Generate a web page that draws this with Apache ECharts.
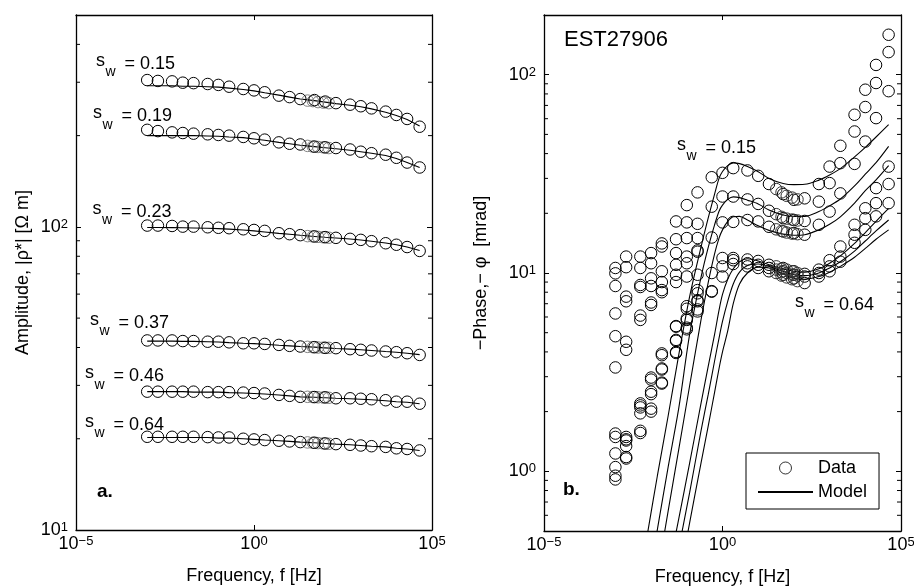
<!DOCTYPE html>
<html><head><meta charset="utf-8">
<script src="https://cdn.jsdelivr.net/npm/echarts@6/dist/echarts.min.js"></script>
<style>html,body{margin:0;padding:0;background:#fff}#c{width:914px;height:586px}</style>
</head><body><div id="c"></div>
<script>
// ---------- data ----------
const freqs = [0.001,0.002,0.005,0.01,0.02,0.05,0.1,0.2,0.5,1,2,5,10,20,50,100,200,500,1000,2000,5000,10000,20000,45000];
const repeatFreqs = [0.001,0.002,0.005,0.01,0.02,0.05,0.1,0.2];
const extraFreqs = [32,45,63,89,126];
const modelFreqs = [0.008,0.015,0.03,0.06,0.12,0.25,0.4,0.6,0.8,1,1.4,2,3,5,10,20,50,100,200,500,1000,2000,5000,10000,20000,45000];
const swLabels = ['0.15','0.19','0.23','0.37','0.46','0.64'];
const minorTicksLeft = [20,30,40,50,60,70,80,90,200,300,400];
const minorTicksRight = [0.6,0.7,0.8,0.9,2,3,4,5,6,7,8,9,20,30,40,50,60,70,80,90];

// amplitude (panel a)
const amp015 = [305,303,302,299,298,296,294,290,285,282,278,271,268,264,262,259,256,253,250,246,240,234,227,214];
const amp019 = [209,207,205,204,203,202,201,200,198,196,194,190,188,187,184,183,182,180,177,175,173,169,163,157];
const amp023 = [101,101,100.7,100.2,100.2,99.7,99.3,99,98.2,97.7,97,95.3,94.6,93.9,93,92.5,92,91.3,90.6,89.7,88.3,87.3,85.8,83.3];
const amp037 = [42.2,42.2,42.2,42.0,42.0,41.8,41.8,41.6,41.3,41.3,41.1,40.8,40.5,40.3,40.1,39.9,39.8,39.5,39.3,39.1,38.8,38.6,38.3,37.8];
const amp046 = [28.6,28.6,28.6,28.6,28.6,28.5,28.5,28.5,28.4,28.3,28.2,27.9,27.7,27.5,27.45,27.4,27.2,27.2,27.1,27.0,26.8,26.5,26.5,26.1];
const amp064 = [20.3,20.3,20.3,20.3,20.3,20.25,20.2,20.2,20.0,19.9,19.8,19.7,19.6,19.5,19.4,19.3,19.2,19.1,19.0,18.9,18.8,18.6,18.5,18.3];
const ampExtra015 = [261,260,258,257,256];
const ampExtra019 = [185,184,183.5,183,182];
const ampExtra023 = [93.2,93,92.7,92.4,92.1];
const ampExtra037 = [40.2,40.1,40.0,39.95,39.9];
const ampExtra046 = [27.5,27.45,27.4,27.35,27.3];
const ampExtra064 = [19.45,19.4,19.35,19.3,19.25];
const ampModel015 = [292,292,292,291,291,290,289,287,284,281,277,272,268,264,261,258,255,252,249,245,239,233,226,215];
const ampModel019 = [200,200,200,200,200,199.5,199,198,197,195,193,190,188,186,184,182.5,181,179,177,175,172,168,163,157];
const ampModel023 = [99.5,99.5,99.4,99.3,99.2,99,98.7,98.3,97.7,97,96.2,95.2,94.5,93.8,93,92.4,91.9,91.2,90.5,89.7,88.5,87.3,85.8,83.6];
const ampModel037 = [42.0,42.0,42.0,41.9,41.9,41.8,41.7,41.5,41.3,41.2,41.0,40.7,40.5,40.3,40.1,39.9,39.7,39.5,39.3,39.1,38.8,38.6,38.3,37.9];
const ampModel046 = [28.6,28.6,28.6,28.6,28.5,28.5,28.5,28.4,28.3,28.2,28.1,27.9,27.7,27.5,27.4,27.3,27.2,27.1,27.0,26.9,26.7,26.5,26.4,26.1];
const ampModel064 = [20.2,20.2,20.2,20.2,20.2,20.2,20.1,20.1,20.0,19.9,19.8,19.7,19.6,19.5,19.4,19.3,19.2,19.1,19.0,18.9,18.8,18.6,18.5,18.3];

// phase (panel b)
const phase015 = [10.6,12.1,12.1,12.6,14.1,18.2,22.0,25.5,30.4,32.0,33.8,32.9,30.9,28.1,25.0,23.4,23.8,28.1,34.4,43.8,62.8,84,112,159];
const phase019 = [8.6,7.6,8.7,9.4,10.2,12.6,15.0,15.0,21.6,24.3,24.3,23.5,22.3,20.6,18.9,18.5,18.3,22.9,28.4,35.8,51.7,68.7,90.8,130];
const phase023 = [4.8,4.5,6.1,7.1,8.2,9.8,11.2,12.8,15.1,18.0,18.1,18.5,18.2,17.1,16.2,15.9,15.6,17.5,20.4,25.2,35.5,46,60.4,82.6];
const phase037 = [1.55,1.49,2.2,2.97,3.93,5.4,6.8,8.2,10.0,11.9,11.9,11.7,11.5,11.0,10.6,10.2,9.9,10.4,11.6,13.6,17.5,21.2,26.8,34.4];
const phase046 = [1.23,1.34,1.96,2.52,3.26,4.6,5.9,7.3,8.05,10.8,11.6,11.2,11.0,10.6,10.2,9.8,9.6,10.0,10.8,12.1,15.6,18.9,22.5,28.1];
const phase064 = [0.91,1.18,1.56,2.07,2.77,4.0,5.2,6.55,8.1,9.6,11.1,10.8,10.6,10.2,9.8,9.4,8.9,9.6,10.2,11.4,14.2,16.5,19.3,22.5];
const phaseRep015 = [9.96,10.7,10.6,11.2,13.6,14.8,18.0,17.7];
const phaseRep019 = [6.25,7.2,8.5,8.6,9.0,11.0,12.1,13.0];
const phaseRep023 = [3.34,4.1,5.8,6.9,8.0,9.0,9.6,9.8];
const phaseRep037 = [1.49,1.45,2.15,2.9,3.85,5.36,6.6,7.9];
const phaseRep046 = [1.05,1.43,2.1,2.45,3.3,4.55,5.8,7.2];
const phaseRep064 = [0.95,1.16,1.6,2.0,2.8,3.95,5.3,6.4];
const phaseExtra015 = [26.5,25.5,24.5,24,23.5];
const phaseExtra019 = [19.8,19.2,18.8,18.6,18.4];
const phaseExtra023 = [16.6,16.3,16.0,15.8,15.7];
const phaseExtra037 = [10.8,10.5,10.4,10.2,10.0];
const phaseExtra046 = [10.4,10.1,10.0,9.8,9.7];
const phaseExtra064 = [10.0,9.7,9.5,9.3,9.1];
const phaseModel015 = [0.49,0.95,1.9,3.9,7.6,13.5,19,25,30,32.5,34.8,35.9,35.6,34.4,32.4,30,28.3,27.9,28,29.4,31.2,33.6,38.5,43,48.5,56];
const phaseModel019 = [0.27,0.51,1.05,2.1,4.9,9.5,13.5,17.5,20.5,22,23.5,24.2,24,23.3,22.3,20.8,19.6,19.3,19.3,20.4,21.8,23.6,27.5,31.5,36,43.5];
const phaseModel023 = [0.15,0.3,0.63,1.3,2.7,5.8,9,12.5,15,16.5,18.2,19.2,19.3,18.5,17.3,16.4,15.7,15.5,15.6,16.5,17.6,19.2,22.5,26,29.5,34.8];
const phaseModel037 = [0.09,0.16,0.31,0.58,1.1,2.2,3.4,4.9,6.5,7.8,9.3,10.5,11.4,11.8,11.5,11.0,10.5,10.2,10.1,10.5,11.2,12.2,14.1,16,18.2,21.2];
const phaseModel046 = [0.06,0.11,0.2,0.41,0.78,1.6,2.45,3.6,4.7,5.7,7.2,8.8,10.1,10.9,11.1,10.8,10.2,9.8,9.7,10.0,10.6,11.4,12.9,14.5,16.3,18.5];
const phaseModel064 = [0.045,0.08,0.14,0.28,0.55,1.1,1.7,2.5,3.3,4.0,5.1,7.0,8.8,10.0,10.7,10.6,9.9,9.4,9.3,9.6,10.1,10.8,12.0,13.3,14.8,16.5];

// ---------- chart ----------
const FF = '"Liberation Sans", Arial, Helvetica, sans-serif';
const chart = echarts.init(document.getElementById('c'), null, {renderer: 'canvas'});

function powLabel(v) {
  const e = Math.log10(v);
  const r = Math.round(e);
  if (Math.abs(e - r) > 1e-6) return '';
  return '{b|10}{e|' + (r < 0 ? '\u2212' + (-r) : String(r)) + '}';
}
const tickRich = {
  b: {fontSize: 18, lineHeight: 18, padding: [5, 0, 0, 0], verticalAlign: 'bottom', color: '#000', fontFamily: FF},
  e: {fontSize: 13, lineHeight: 13, verticalAlign: 'top', color: '#000', fontFamily: FF}
};
const nameStyle = {fontSize: 18, color: '#000', fontFamily: FF};

function xAx(gi, pos, main) {
  return {
    type: 'log', logBase: 10, gridIndex: gi, position: pos, min: 1e-5, max: 1e5, splitNumber: 2,
    axisLine: {show: true, onZero: false, lineStyle: {color: '#000', width: 1.3}},
    axisTick: {show: true, inside: true, length: 5, lineStyle: {color: '#000', width: 1}},
    minorTick: {show: false}, splitLine: {show: false},
    axisLabel: {show: main, margin: 5, formatter: powLabel, rich: tickRich, showMinLabel: true, showMaxLabel: true, hideOverlap: false},
    name: main ? 'Frequency, f [Hz]' : '', nameLocation: 'middle', nameGap: 37, nameTextStyle: nameStyle
  };
}
function yAx(gi, pos, main, min, max, name, gap) {
  return {
    type: 'log', logBase: 10, gridIndex: gi, position: pos, min: min, max: max,
    axisLine: {show: true, onZero: false, lineStyle: {color: '#000', width: 1.3}},
    axisTick: {show: true, inside: true, length: 5, lineStyle: {color: '#000', width: 1}},
    minorTick: {show: false}, splitLine: {show: false},
    axisLabel: {show: main, margin: 8, formatter: powLabel, rich: tickRich, showMinLabel: true, showMaxLabel: true, hideOverlap: false},
    name: main ? name : '', nameLocation: 'middle', nameGap: gap, nameTextStyle: nameStyle
  };
}

const series = [];
function addScatter(name, xi, yi, fs, vals, color) {
  series.push({
    type: 'scatter', name: name, xAxisIndex: xi, yAxisIndex: yi,
    data: vals.map((v, i) => [fs[i], v]),
    symbol: 'circle', symbolSize: 11.5,
    itemStyle: {color: 'rgba(0,0,0,0)', borderColor: color, borderWidth: 1, opacity: 1},
    emphasis: {disabled: true}, z: 3, silent: true
  });
}
function addLine(xi, yi, fs, vals, smooth) {
  series.push({
    type: 'line', name: 'Model', xAxisIndex: xi, yAxisIndex: yi,
    data: vals.map((v, i) => [fs[i], v]),
    symbol: 'none', showSymbol: false, smooth: smooth, clip: true,
    lineStyle: {color: '#000', width: 1.1}, itemStyle: {color: 'rgba(0,0,0,0)', borderWidth: 0},
    emphasis: {disabled: true}, z: 2, silent: true
  });
}
function addMinor(xi, yi, vals) {
  series.push({
    type: 'custom', name: 'minor', xAxisIndex: xi, yAxisIndex: yi, silent: true, clip: false, z: 5,
    data: vals.map(v => [1, v]),
    renderItem: function (params, api) {
      const v = api.value(1);
      const a = api.coord([1e-5, v]);
      const b = api.coord([1e5, v]);
      return {type: 'group', children: [
        {type: 'line', shape: {x1: a[0], y1: a[1], x2: a[0] + 4, y2: a[1]}, style: {stroke: '#000', lineWidth: 1}},
        {type: 'line', shape: {x1: b[0] - 4, y1: b[1], x2: b[0], y2: b[1]}, style: {stroke: '#000', lineWidth: 1}}
      ]};
    }
  });
}

// panel a
const ampData = [amp015, amp019, amp023, amp037, amp046, amp064];
const ampExtra = [ampExtra015, ampExtra019, ampExtra023, ampExtra037, ampExtra046, ampExtra064];
const ampModel = [ampModel015, ampModel019, ampModel023, ampModel037, ampModel046, ampModel064];
ampModel.forEach(m => addLine(0, 0, freqs, m, false));
ampExtra.forEach(d => addScatter('DataExtra', 0, 0, extraFreqs, d, '#808080'));
ampData.forEach(d => addScatter('Data', 0, 0, freqs, d, '#000'));
addMinor(0, 0, minorTicksLeft);

// panel b
const phData = [phase015, phase019, phase023, phase037, phase046, phase064];
const phRep = [phaseRep015, phaseRep019, phaseRep023, phaseRep037, phaseRep046, phaseRep064];
const phExtra = [phaseExtra015, phaseExtra019, phaseExtra023, phaseExtra037, phaseExtra046, phaseExtra064];
const phModel = [phaseModel015, phaseModel019, phaseModel023, phaseModel037, phaseModel046, phaseModel064];
phData.forEach(d => addScatter('Data', 2, 2, freqs, d, '#000'));
phModel.forEach(m => addLine(2, 2, modelFreqs, m, 0.3));
phRep.forEach(d => addScatter('DataRep', 2, 2, repeatFreqs, d, '#000'));
phExtra.forEach(d => addScatter('DataExtra', 2, 2, extraFreqs, d, '#333'));
addMinor(2, 2, minorTicksRight);

// "s_w = value" annotation: x = left of "s", y = middle of "s"
function swGraphic(x, y, v) {
  const base = {fill: '#000', verticalAlign: 'middle', align: 'left'};
  return {type: 'group', x: x, y: y, silent: true, z: 10, children: [
    {type: 'text', x: 0, y: 0, style: Object.assign({text: 's', font: '18px ' + FF}, base)},
    {type: 'text', x: 9.5, y: 11.5, style: Object.assign({text: 'w', font: '14px ' + FF}, base)},
    {type: 'text', x: 28.5, y: 3, style: Object.assign({text: '= ' + v, font: '18px ' + FF}, base)}
  ]};
}

const option = {
  animation: false,
  backgroundColor: '#fff',
  textStyle: {fontFamily: FF, color: '#000'},
  grid: [
    {left: 76, top: 15, width: 356, height: 515, containLabel: false, outerBoundsMode: 'none'},
    {left: 544, top: 15, width: 357, height: 516, containLabel: false, outerBoundsMode: 'none'}
  ],
  xAxis: [xAx(0, 'bottom', true), xAx(0, 'top', false), xAx(1, 'bottom', true), xAx(1, 'top', false)],
  yAxis: [
    yAx(0, 'left', true, 10, 500, 'Amplitude, |\u03c1*| [\u03a9 m]', 44),
    yAx(0, 'right', false, 10, 500, '', 0),
    yAx(1, 'left', true, 0.5, 200, '\u2212Phase,\u2212 \u03c6  [mrad]', 54),
    yAx(1, 'right', false, 0.5, 200, '', 0)
  ],
  legend: {
    show: true,
    data: [
      {name: 'Data', itemStyle: {color: 'rgba(0,0,0,0)', borderColor: '#000', borderWidth: 0.8}},
      {name: 'Model', itemStyle: {color: 'rgba(0,0,0,0)', borderWidth: 0, opacity: 0}}
    ],
    orient: 'vertical', align: 'left',
    left: 746, top: 453, padding: [6, 12, 8, 11], itemGap: 6, itemWidth: 55, itemHeight: 12,
    borderColor: '#000', borderWidth: 1, backgroundColor: '#fff', selectedMode: false,
    textStyle: {fontSize: 18, color: '#000', fontFamily: FF}
  },
  series: series,
  graphic: [
    swGraphic(96, 61, swLabels[0]),
    swGraphic(93, 113.5, swLabels[1]),
    swGraphic(92.5, 209, swLabels[2]),
    swGraphic(90, 320, swLabels[3]),
    swGraphic(85, 373.5, swLabels[4]),
    swGraphic(85, 422, swLabels[5]),
    {type: 'text', x: 97, y: 492, silent: true, style: {text: 'a.', fill: '#000', font: 'bold 19px ' + FF, verticalAlign: 'middle'}},
    {type: 'text', x: 564, y: 40, silent: true, style: {text: 'EST27906', fill: '#000', font: '22px ' + FF, verticalAlign: 'middle'}},
    swGraphic(677, 145, swLabels[0]),
    swGraphic(795, 302, swLabels[5]),
    {type: 'text', x: 563, y: 490, silent: true, style: {text: 'b.', fill: '#000', font: 'bold 19px ' + FF, verticalAlign: 'middle'}}
  ]
};
chart.setOption(option);
</script>
</body></html>
